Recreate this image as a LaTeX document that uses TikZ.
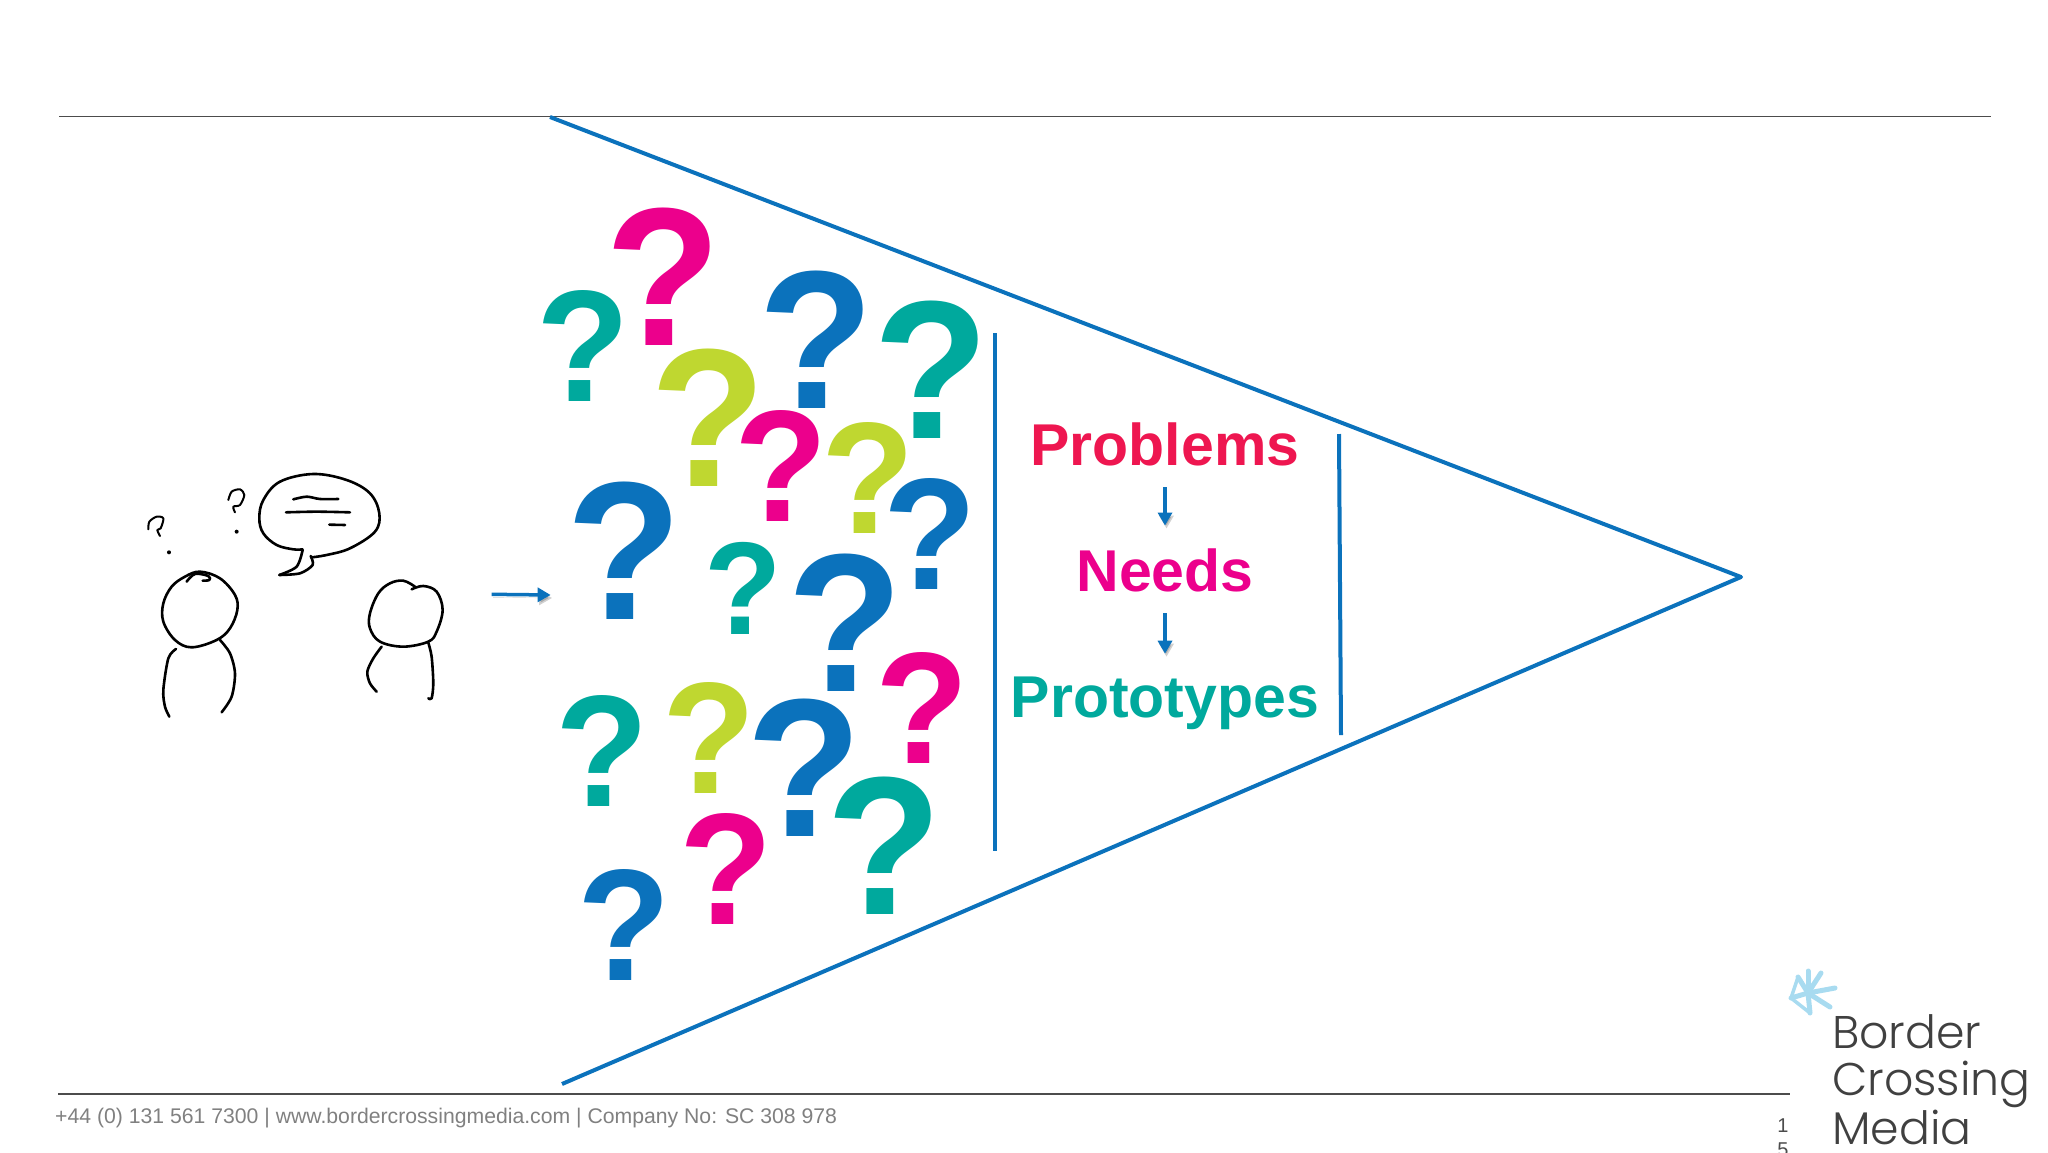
\documentclass[tikz,border=0pt]{standalone}
\usepackage{fontspec}
\setmainfont{Liberation Sans}
\newfontfamily\logofont{Poppins Light}
\newfontfamily\qfont[FakeStretch=0.96]{Liberation Sans}
\usetikzlibrary{arrows.meta}
\definecolor{qblue}{HTML}{0B72BC}
\definecolor{qmagenta}{HTML}{EC008C}
\definecolor{qteal}{HTML}{00A99D}
\definecolor{qlime}{HTML}{BFD730}
\definecolor{qred}{HTML}{EE1650}
\definecolor{footgrey}{HTML}{808080}
\definecolor{logogrey}{HTML}{404040}
\definecolor{stargrey}{HTML}{A8DBF0}
\newcommand{\sized}[1]{\fontsize{#1}{#1}\selectfont}
\tikzset{
  rule/.style={line width=1.2pt,black!70},
  funnel/.style={line width=4pt,qblue,line join=round},
  flow/.style={line width=3.5pt,qblue,-{Triangle[length=13pt,width=14pt]},
    preaction={draw=black,opacity=.18,transform canvas={shift={(1.5pt,-3pt)}}}},
  qmark/.style={inner sep=0pt,font=\qfont\bfseries\sized{#1}},
  stage/.style={inner sep=0pt,anchor=base,font=\bfseries\sized{59}},
  pen/.style={line width=2.6pt,black,line cap=round,line join=round},
  ray/.style={line width=5pt,stargrey,line cap=round},
}
\begin{document}
\begin{tikzpicture}[x=1pt,y=-1pt]
  \useasboundingbox (0,0) rectangle (2048,1152);
  \coordinate (topleft) at (59,116.6);
  \coordinate (topright) at (1991,116.6);
  \coordinate (botleft) at (58,1094);
  \coordinate (botright) at (1790,1094);
  \draw[rule] (topleft) -- (topright);
  \draw[rule] (botleft) -- (botright);
  % funnel
  \coordinate (mouthtop) at (550,117);
  \coordinate (apex) at (1741,577);
  \coordinate (mouthbot) at (562,1084);
  \draw[funnel] (mouthtop) -- (apex) -- (mouthbot);
  \coordinate (gateatop) at (995,333);
  \coordinate (gateabot) at (995,851);
  \coordinate (gatebtop) at (1339,434);
  \coordinate (gatebbot) at (1341,735);
  \draw[funnel] (gateatop) -- (gateabot);
  \draw[funnel] (gatebtop) -- (gatebbot);
  % question marks
  \foreach \x/\y/\s/\c [count=\i] in {
    663/277/197/qmagenta, 583/346/159/qteal, 816/340/197/qblue,
    931/370/197/qteal, 708/418/197/qlime, 781/466/159/qmagenta,
    868/478/159/qlime, 930/534/159/qblue, 624/551/197/qblue,
    743/588/132/qteal, 845/623/197/qblue, 922/708/159/qmagenta,
    602/751/159/qteal, 709/738/159/qlime, 804/768/197/qblue,
    726/869/159/qmagenta, 884/846/197/qteal, 624/925/159/qblue}
    \node[qmark=\s,text=\c] (q\i) at (\x,\y) {?};
  % stages
  \node[stage,text=qred] (problems) at (1165,465.5) {Problems};
  \node[stage,text=qmagenta] (needs) at (1165,591.5) {Needs};
  \node[stage,text=qteal] (prototypes) at (1165,717.5) {Prototypes};
  \draw[flow,shorten >=23pt,shorten <=21pt] (problems) -- (needs);
  \draw[flow,shorten >=23pt,shorten <=21pt] (needs) -- (prototypes);
  % sketch, in units of a third of a pixel
  \begin{scope}[shift={(120,450)},x=0.3333pt,y=-0.3333pt]
    \draw[pen] plot[smooth cycle,tension=.6] coordinates {(240,365) (300,385) (345,435)
      (352,480) (330,535) (290,570) (215,592) (165,570) (130,515) (130,460) (155,410) (195,380)};
    \draw[pen] plot[smooth,tension=.6] coordinates {(200,395) (225,372) (265,378) (268,390) (248,392)};
    \draw[pen] plot[smooth] coordinates {(168,597) (145,625) (130,720) (135,770) (148,800)};
    \draw[pen] plot[smooth] coordinates {(300,570) (330,610) (345,670) (335,740) (305,787)};
    \draw[pen,line width=2pt] plot[smooth] coordinates {(85,238) (88,215) (110,200) (130,205) (122,235) (112,240) (120,258)};
    \draw[pen,line width=2pt] plot[smooth] coordinates {(325,150) (335,125) (360,118) (373,135) (360,165) (340,170) (345,187)};
    \fill (147,307) circle (6);
    \fill (350,245) circle (6);
    % bubble
    \draw[pen] plot[smooth,tension=.6] coordinates {(548,298) (520,298) (470,285) (430,250) (418,205) (430,150)
      (480,95) (580,72) (680,90) (750,130) (778,190) (765,245) (690,295) (620,315) (575,322)};
    \draw[pen] plot[smooth] coordinates {(548,300) (530,350) (478,375)};
    \draw[pen] plot[smooth] coordinates {(478,375) (540,370) (578,345) (572,318)};
    \draw[pen] plot[smooth] coordinates {(520,148) (560,140) (600,147) (655,147)};
    \draw[pen] plot[smooth] coordinates {(498,187) (590,185) (690,187)};
    \draw[pen] (628,224) -- (675,225);
    % second figure
    \draw[pen] plot[smooth,tension=.6] coordinates {(875,418) (910,408) (950,425) (968,480) (950,545)
      (925,575) (850,590) (780,575) (750,535) (750,490) (775,430) (810,400) (850,392) (885,410)};
    \draw[pen] plot[smooth] coordinates {(785,590) (760,625) (742,665) (750,700) (770,725)};
    \draw[pen] plot[smooth] coordinates {(925,578) (935,620) (940,700) (935,745) (925,745)};
    \coordinate (gazefrom) at (1115,433);
    \coordinate (gazeto) at (1292,435);
    \draw[flow] (gazefrom) -- (gazeto);
  \end{scope}
  % footer and logo
  \node[anchor=base west,inner sep=0pt,text=footgrey,font=\sized{21.2}] (footer) at (55,1123)
    {+44 (0) 131 561 7300 | www.bordercrossingmedia.com | Company No: SC 308 978};
  \node[anchor=north,inner sep=0pt,align=center,text=black!70,font=\sized{20}] (pagenum) at (1783,1119)
    {1\\[4pt]5};
  \begin{scope}[shift={(1808,993)}]
    \foreach \a/\b [count=\i] in {27/-5,22/14,2/20,-17/5,-10/-16,0/-22,13/-20}
      \draw[ray] (0,0) -- (\a,\b);
    \draw[ray,line width=3.5pt] (-10,-16) -- (-17,5) -- (2,20);
  \end{scope}
  \node[anchor=north west,inner sep=0pt,align=left,text=logogrey,font=\logofont\sized{45.8}] (logo) at (1832,1014)
    {Border\\[1.6pt]Crossing\\[1.6pt]Media};
\end{tikzpicture}
\end{document}
